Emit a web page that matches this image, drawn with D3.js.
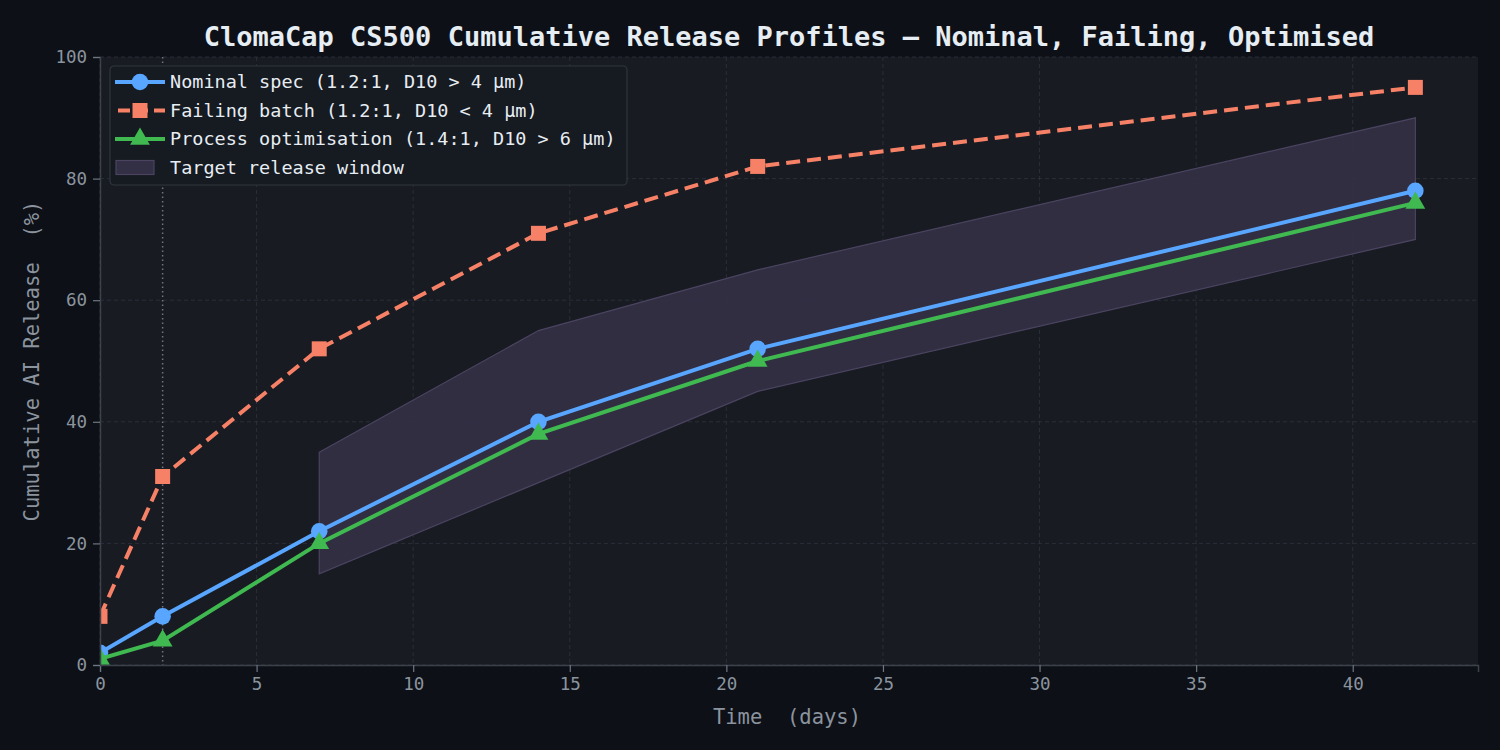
<!DOCTYPE html>
<html>
<head>
<meta charset="utf-8">
<script src="https://cdn.jsdelivr.net/npm/d3@7"></script>
<style>
  body { margin: 0; background: #0d1017; }
  svg { display: block; font-family: "DejaVu Sans Mono", monospace; }
</style>
</head>
<body>
<div id="chart"></div>
<script>
// data
var days = [0, 2, 7, 14, 21, 42];
var nominal = [2, 8, 22, 40, 52, 78];
var failing = [8, 31, 52, 71, 82, 95];
var optimised = [1, 4, 20, 38, 50, 76];

var windowDays = [7, 14, 21, 42];
var windowLow = [15, 30, 45, 70];
var windowHigh = [35, 55, 65, 90];

var xTicks = [0, 5, 10, 15, 20, 25, 30, 35, 40];
var yTicks = [0, 20, 40, 60, 80, 100];
var markerDay = 2;

var W = 1500, H = 750;
var margin = { top: 57, right: 22, bottom: 85, left: 100 },
    width = W - margin.left - margin.right,
    height = H - margin.top - margin.bottom;

var x = d3.scaleLinear().domain([0, 44]).range([0, width]);
var y = d3.scaleLinear().domain([0, 100]).range([height, 0]);

var svg = d3.select("#chart").append("svg")
    .attr("width", W)
    .attr("height", H);

svg.append("rect").attr("width", W).attr("height", H).attr("fill", "#0d1017");

svg.append("defs").append("clipPath").attr("id", "plotclip")
    .append("rect").attr("width", width).attr("height", height);

var g = svg.append("g")
    .attr("transform", "translate(" + margin.left + "," + margin.top + ")");

g.append("rect")
    .attr("width", width).attr("height", height)
    .attr("fill", "#181b22");

// grid
g.append("g").selectAll("line")
    .data(xTicks)
    .join("line")
    .attr("x1", d => x(d)).attr("x2", d => x(d))
    .attr("y1", 0).attr("y2", height)
    .attr("stroke", "#30343c").attr("stroke-width", 0.8)
    .attr("stroke-dasharray", "4,3");
g.append("g").selectAll("line")
    .data(yTicks)
    .join("line")
    .attr("y1", d => y(d)).attr("y2", d => y(d))
    .attr("x1", 0).attr("x2", width)
    .attr("stroke", "#30343c").attr("stroke-width", 0.8)
    .attr("stroke-dasharray", "4,3");

var plot = g.append("g").attr("clip-path", "url(#plotclip)");

// target window band
var band = windowDays.map((d, i) => ({ d: d, lo: windowLow[i], hi: windowHigh[i] }));
plot.append("path")
    .datum(band)
    .attr("d", d3.area().x(p => x(p.d)).y0(p => y(p.lo)).y1(p => y(p.hi)))
    .attr("fill", "#332f45")
    .attr("fill-opacity", 0.95)
    .attr("stroke", "#4a4460")
    .attr("stroke-width", 1.2);

// vertical dotted marker
plot.append("line")
    .attr("x1", x(markerDay)).attr("x2", x(markerDay))
    .attr("y1", 0).attr("y2", height)
    .attr("stroke", "#6e7681").attr("stroke-width", 1.5)
    .attr("stroke-dasharray", "1.5,3");

var line = d3.line().x((v, i) => x(days[i])).y(v => y(v));

var series = [
    { name: "Nominal spec (1.2:1, D10 > 4 μm)", values: nominal, color: "#58a6ff", dash: null, marker: "circle" },
    { name: "Failing batch (1.2:1, D10 < 4 μm)", values: failing, color: "#f78166", dash: "14,7", marker: "square" },
    { name: "Process optimisation (1.4:1, D10 > 6 μm)", values: optimised, color: "#3fb950", dash: null, marker: "triangle" }
];

var symbols = { circle: d3.symbolCircle, square: d3.symbolSquare, triangle: d3.symbolTriangle };
var sizes = { circle: 215, square: 225, triangle: 170 };

series.forEach(s => {
    plot.append("path")
        .datum(s.values)
        .attr("d", line)
        .attr("fill", "none")
        .attr("stroke", s.color)
        .attr("stroke-width", 4)
        .attr("stroke-dasharray", s.dash);
    plot.append("g").selectAll("path")
        .data(s.values)
        .join("path")
        .attr("transform", (v, i) => "translate(" + x(days[i]) + "," + y(v) + ")")
        .attr("d", d3.symbol().type(symbols[s.marker]).size(sizes[s.marker]))
        .attr("fill", s.color);
});

// axes
var xAxis = g.append("g")
    .attr("transform", "translate(0," + height + ")")
    .call(d3.axisBottom(x).tickValues(xTicks).tickSize(7).tickPadding(6));
var yAxis = g.append("g")
    .call(d3.axisLeft(y).tickValues(yTicks).tickSize(7).tickPadding(6));
[xAxis, yAxis].forEach(a => {
    a.select(".domain").attr("stroke", "#3d424a").attr("stroke-width", 1.5);
    a.selectAll(".tick line").attr("stroke", "#6e7681").attr("stroke-width", 1.2);
    a.selectAll(".tick text")
        .attr("fill", "#8b949e")
        .style("font-size", "17.5px")
        .style("font-family", "'DejaVu Sans Mono', monospace");
});

// legend
var leg = svg.append("g").attr("transform", "translate(110,66)");
leg.append("rect")
    .attr("width", 517).attr("height", 119)
    .attr("rx", 4)
    .attr("fill", "#161a21")
    .attr("stroke", "#30363d")
    .attr("stroke-width", 1.2);

series.forEach((s, i) => {
    var ly = 16 + i * 28.5;
    var row = leg.append("g").attr("transform", "translate(0," + ly + ")");
    row.append("line")
        .attr("x1", 5).attr("x2", 55)
        .attr("stroke", s.color).attr("stroke-width", 4)
        .attr("stroke-dasharray", s.dash ? "12,6" : null)
        .attr("stroke-dashoffset", s.dash ? -3 : 0);
    row.append("path")
        .attr("transform", "translate(30,0)")
        .attr("d", d3.symbol().type(symbols[s.marker]).size(sizes[s.marker]))
        .attr("fill", s.color);
    row.append("text")
        .attr("x", 60).attr("y", 0)
        .attr("dy", "0.35em")
        .attr("fill", "#e6edf3")
        .style("font-size", "18.5px")
        .text(s.name);
});
var brow = leg.append("g").attr("transform", "translate(0," + (16 + 3 * 28.5) + ")");
brow.append("rect")
    .attr("x", 6).attr("y", -7).attr("width", 38).attr("height", 14)
    .attr("fill", "#332f45").attr("stroke", "#4a4460").attr("stroke-width", 1.2);
brow.append("text")
    .attr("x", 60).attr("dy", "0.35em")
    .attr("fill", "#e6edf3")
    .style("font-size", "18.5px")
    .text("Target release window");

// title and axis labels
svg.append("text")
    .attr("x", margin.left + width / 2).attr("y", 46)
    .attr("text-anchor", "middle")
    .attr("fill", "#e6edf3")
    .style("font-size", "27px")
    .style("font-weight", "bold")
    .text("ClomaCap CS500 Cumulative Release Profiles — Nominal, Failing, Optimised");

svg.append("text")
    .attr("x", margin.left + width / 2 - 2).attr("y", 724)
    .attr("text-anchor", "middle")
    .attr("fill", "#8b949e")
    .style("font-size", "20.5px")
    .style("white-space", "pre")
    .attr("xml:space", "preserve")
    .text("Time  (days)");

svg.append("text")
    .attr("transform", "translate(39," + (margin.top + height / 2) + ") rotate(-90)")
    .attr("text-anchor", "middle")
    .attr("fill", "#8b949e")
    .style("font-size", "20.5px")
    .style("white-space", "pre")
    .attr("xml:space", "preserve")
    .text("Cumulative AI Release  (%)");
</script>
</body>
</html>
